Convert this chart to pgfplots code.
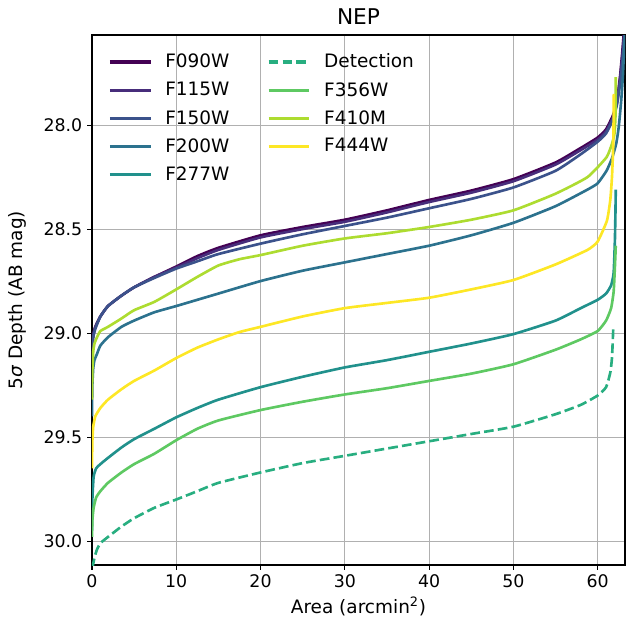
\documentclass[border=0pt]{standalone}
\usepackage{pgfplots}
\pgfplotsset{compat=1.18}
\usepackage{fontspec}
\setmainfont{DejaVu Sans}
\usetikzlibrary{calc}
\definecolor{vA}{HTML}{440154}
\definecolor{vB}{HTML}{472D7B}
\definecolor{vC}{HTML}{3B528B}
\definecolor{vD}{HTML}{2C728E}
\definecolor{vE}{HTML}{21918C}
\definecolor{vF}{HTML}{28AE80}
\definecolor{vG}{HTML}{5EC962}
\definecolor{vH}{HTML}{ADDC30}
\definecolor{vI}{HTML}{FDE725}
\definecolor{gridgray}{HTML}{B0B0B0}
\begin{document}
\begin{tikzpicture}
\begin{axis}[
  scale only axis, width=383.8pt, height=381.6pt,
  xmin=0, xmax=63.25, ymin=27.567, ymax=30.115, y dir=reverse,
  xtick={0,10,20,30,40,50,60}, ytick={28.0,28.5,29.0,29.5,30.0},
  yticklabel style={/pgf/number format/.cd, fixed, fixed zerofill, precision=1},
  /pgf/number format/assume math mode=true,
  tick label style={font=\fontsize{12.5}{14}\selectfont},
  grid=major, major grid style={color=gridgray, line width=0.8pt},
  axis line style={line width=0.8pt},
  tick style={line width=0.8pt, black}, major tick length=3.5pt,
  tick align=outside, tick pos=left,
  xlabel={Area (arcmin\textsuperscript{2})},
  ylabel={5{\itshape σ} Depth (AB mag)},
  every axis x label/.style={at={(axis description cs:0.5,-0.0774)}, anchor=center, font=\fontsize{13.3}{15}\selectfont},
  every axis y label/.style={at={(axis description cs:-0.139,0.5)}, rotate=90, anchor=center, font=\fontsize{13.3}{15}\selectfont},
  title={NEP},
  every axis title/.style={at={(axis description cs:0.5,1.034)}, anchor=center, font=\fontsize{15.6}{18}\selectfont},
  legend columns=2, legend cell align=left,
  legend style={at={(axis description cs:0.03,0.970)}, anchor=north west, draw=none, fill=none, inner sep=0pt,
    font=\fontsize{13.3}{15}\selectfont, row sep=4.8pt,
    /tikz/every even column/.append style={column sep=25pt}},
  legend image code/.code={\draw[#1, line width=2.4pt] (0pt,0pt) -- (29.3pt,0pt); \path (37pt,0pt);},
  every axis plot/.append style={line width=1.9pt, line join=round},
]
\addlegendimage{vA}\addlegendentry{F090W}
\addlegendimage{vF, dash pattern=on 7pt off 3pt}\addlegendentry{Detection}
\addlegendimage{vB}\addlegendentry{F115W}
\addlegendimage{vG}\addlegendentry{F356W}
\addlegendimage{vC}\addlegendentry{F150W}
\addlegendimage{vH}\addlegendentry{F410M}
\addlegendimage{vD}\addlegendentry{F200W}
\addlegendimage{vI}\addlegendentry{F444W}
\addlegendimage{vE}\addlegendentry{F277W}

% F090W
\addplot[vA, forget plot, smooth, tension=0.3] coordinates {(0,29.12) (0.05,29.06) (0.15,29.01) (0.4,28.97) (1.0,28.92) (1.9,28.87) (3.5,28.82) (5,28.78) (7.4,28.73) (10,28.68) (12.5,28.63) (15,28.59) (20,28.53) (25,28.49) (30,28.455) (35,28.41) (40,28.36) (45,28.315) (50,28.26) (55,28.18) (58,28.11) (60,28.06) (61,28.02) (61.85,27.95) (62.3,27.88) (62.65,27.77) (62.9,27.66) (63.1,27.56)};
% F115W
\addplot[vB, forget plot, smooth, tension=0.3] coordinates {(0,29.13) (0.05,29.06) (0.15,29.01) (0.4,28.97) (1.0,28.92) (1.9,28.87) (3.5,28.82) (5,28.78) (7.4,28.73) (10,28.685) (12.5,28.64) (15,28.60) (20,28.54) (25,28.50) (30,28.465) (35,28.42) (40,28.37) (45,28.325) (50,28.27) (55,28.19) (58,28.12) (60,28.07) (61,28.03) (61.85,27.96) (62.3,27.89) (62.65,27.78) (62.95,27.66) (63.15,27.56)};
% F150W
\addplot[vC, forget plot, smooth, tension=0.3] coordinates {(0,29.15) (0.05,29.07) (0.15,29.02) (0.4,28.98) (1.0,28.92) (1.9,28.87) (3.5,28.82) (5,28.78) (7.4,28.735) (10,28.69) (12.5,28.655) (15,28.62) (20,28.57) (25,28.525) (30,28.485) (35,28.445) (40,28.40) (45,28.355) (50,28.30) (55,28.22) (58,28.14) (60,28.08) (61,28.04) (61.85,27.97) (62.3,27.90) (62.7,27.79) (63.0,27.67) (63.2,27.56)};
% F200W
\addplot[vD, forget plot, smooth, tension=0.3] coordinates {(0,29.40) (0.05,29.25) (0.15,29.17) (0.3,29.13) (0.6,29.10) (1.0,29.06) (1.9,29.02) (3.5,28.97) (5,28.94) (7.4,28.90) (10,28.87) (12.5,28.84) (15,28.81) (20,28.75) (25,28.70) (30,28.66) (35,28.62) (40,28.58) (45,28.53) (50,28.47) (55,28.39) (58.8,28.31) (60,28.28) (61.05,28.22) (61.7,28.16) (62.2,28.09) (62.5,28.01) (62.8,27.88) (63.0,27.76) (63.15,27.62) (63.25,27.56)};
% F277W
\addplot[vE, forget plot, smooth, tension=0.3] coordinates {(0,29.95) (0.05,29.80) (0.2,29.69) (0.5,29.65) (1.0,29.63) (1.9,29.60) (3.5,29.55) (5,29.51) (7.4,29.46) (10,29.405) (12.5,29.36) (15,29.32) (20,29.26) (25,29.21) (30,29.165) (35,29.13) (40,29.09) (45,29.05) (50,29.005) (55,28.94) (58,28.88) (60,28.84) (61,28.81) (61.6,28.77) (61.9,28.71) (62.05,28.55) (62.12,28.40) (62.15,28.31)};
% Detection
\addplot[vF, forget plot, smooth, tension=0.3, dash pattern=on 7pt off 3pt] coordinates {(0.05,30.13) (0.3,30.08) (0.6,30.04) (1.0,30.01) (1.9,29.98) (3.5,29.93) (5,29.89) (7.4,29.84) (10,29.80) (12.5,29.76) (15,29.72) (20,29.67) (25,29.625) (30,29.59) (35,29.555) (40,29.52) (45,29.485) (50,29.45) (55,29.39) (58,29.345) (60,29.30) (61,29.26) (61.5,29.19) (61.7,29.12) (61.8,29.03) (61.85,28.98)};
% F356W
\addplot[vG, forget plot, smooth, tension=0.3] coordinates {(0,29.98) (0.05,29.90) (0.2,29.84) (0.5,29.79) (1.0,29.76) (1.9,29.72) (3.5,29.67) (5,29.63) (7.4,29.58) (10,29.515) (12.5,29.46) (15,29.42) (20,29.37) (25,29.33) (30,29.295) (35,29.265) (40,29.23) (45,29.195) (50,29.15) (55,29.08) (58,29.03) (60,28.99) (61,28.94) (61.6,28.88) (61.9,28.80) (62.05,28.68) (62.15,28.58)};
% F410M
\addplot[vH, forget plot, smooth, tension=0.3] coordinates {(0,29.32) (0.05,29.18) (0.15,29.09) (0.3,29.05) (0.6,29.02) (1.0,28.99) (1.9,28.97) (3.5,28.93) (5,28.89) (7.4,28.85) (10,28.79) (12.5,28.73) (15,28.675) (17.5,28.645) (20,28.625) (25,28.58) (30,28.545) (35,28.52) (40,28.49) (45,28.455) (50,28.41) (55,28.33) (58.8,28.25) (61.05,28.155) (61.7,28.09) (62.0,28.04) (62.12,27.95) (62.15,27.77)};
% F444W
\addplot[vI, forget plot, smooth, tension=0.3] coordinates {(0,29.65) (0.05,29.52) (0.15,29.45) (0.4,29.40) (1.0,29.36) (1.9,29.32) (3.5,29.27) (5,29.23) (7.4,29.18) (10,29.12) (12.5,29.07) (15,29.03) (17.5,28.995) (20,28.97) (25,28.92) (30,28.88) (35,28.855) (40,28.83) (45,28.79) (50,28.745) (55,28.67) (58.8,28.60) (60,28.56) (61.1,28.46) (61.5,28.36) (61.7,28.25) (61.85,28.10) (61.9,27.95) (61.92,27.85)};
\end{axis}
\pgfresetboundingbox
\path[use as bounding box] ($(current axis.south west)+(-66.2pt,-42.5pt)$) rectangle ($(current axis.north east)+(0.7pt,25.2pt)$);
\end{tikzpicture}
\end{document}
